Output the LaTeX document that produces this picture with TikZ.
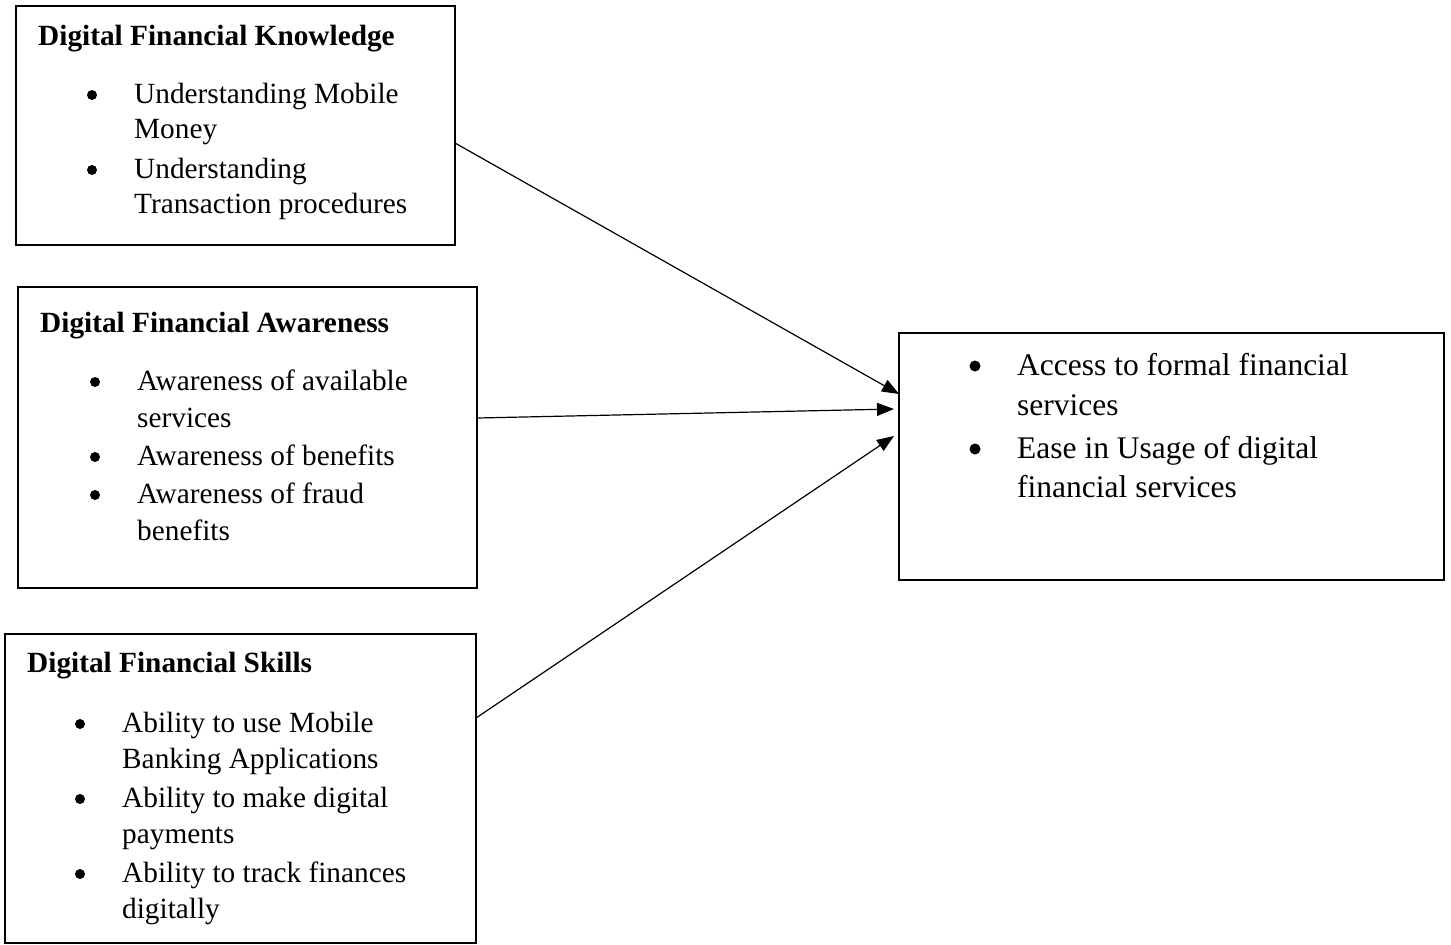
\documentclass[tikz,border=0pt]{standalone}
\usepackage{fontspec}
\setmainfont{Liberation Serif}
\usetikzlibrary{arrows.meta,positioning}
\tikzset{
	every node/.style={inner sep=0pt},
	box node/.style={rectangle,draw=black,line width=2pt,outer sep=0pt},
	head node/.style={anchor=base west,font=\fontsize{29.3}{35}\selectfont\bfseries},
	item node/.style={anchor=base west,font=\fontsize{29.3}{35}\selectfont},
	out node/.style={anchor=base west,font=\fontsize{31.5}{39}\selectfont},
	dot node/.style={circle,fill=black,minimum size=10pt}
}
\begin{document}
\begin{tikzpicture}[x=1pt, y=-1pt,
	link/.style={-{Triangle[length=17pt,width=13pt]}, line width=1.2pt}]
	\useasboundingbox (0,0) rectangle (1451,945);

	% Boxes
	\node[box node, minimum width=439pt, minimum height=239pt] (know) at (235.5,125.5) {};
	\node[box node, minimum width=459pt, minimum height=301pt] (aware) at (247.5,437.5) {};
	\node[box node, minimum width=471pt, minimum height=309pt] (skill) at (240.5,788.5) {};
	\node[box node, minimum width=545pt, minimum height=247pt] (incl) at (1171.5,456.5) {};

	% Knowledge
	\node[head node] (knowhead) at (38,45) {Digital Financial Knowledge};
	\foreach \yy [count=\i] in {103,178}
		\node[dot node] (knowdot\i) at (92,\yy-8) {};
	\foreach \yy/\txt [count=\i] in {103/Understanding Mobile, 138/Money,
		178/Understanding, 213/Transaction procedures}
		\node[item node] (know\i) at (134,\yy) {\txt};

	% Awareness
	\node[head node] (awarehead) at (40,332) {Digital Financial Awareness};
	\foreach \yy [count=\i] in {390,465,503}
		\node[dot node] (awaredot\i) at (95,\yy-8) {};
	\foreach \yy/\txt [count=\i] in {390/Awareness of available, 427/services,
		465/Awareness of benefits, 503/Awareness of fraud, 540/benefits}
		\node[item node] (aware\i) at (137,\yy) {\txt};

	% Skills
	\node[head node] (skillhead) at (27,672) {Digital Financial Skills};
	\foreach \yy [count=\i] in {732,807,882}
		\node[dot node] (skilldot\i) at (80,\yy-8) {};
	\foreach \yy/\txt [count=\i] in {732/Ability to use Mobile, 768/Banking Applications,
		807/Ability to make digital, 843/payments,
		882/Ability to track finances, 918/digitally}
		\node[item node] (skill\i) at (122,\yy) {\txt};

	% Outcome
	\foreach \yy [count=\i] in {375,458}
		\node[dot node, minimum size=11pt] (incldot\i) at (975,\yy-9) {};
	\foreach \yy/\txt [count=\i] in {375/Access to formal financial, 415/services,
		458/Ease in Usage of digital, 497/financial services}
		\node[out node] (incl\i) at (1017,\yy) {\txt};

	% Arrows
	\draw[link] ([yshift=-17.5pt]know.east) -- ([yshift=62.5pt]incl.west);
	\draw[link] ([yshift=19.5pt]aware.east) -- ([xshift=-5pt,yshift=47.5pt]incl.west);
	\draw[link] ([yshift=70.5pt]skill.east) -- ([xshift=-5pt,yshift=20.5pt]incl.west);
\end{tikzpicture}
\end{document}
